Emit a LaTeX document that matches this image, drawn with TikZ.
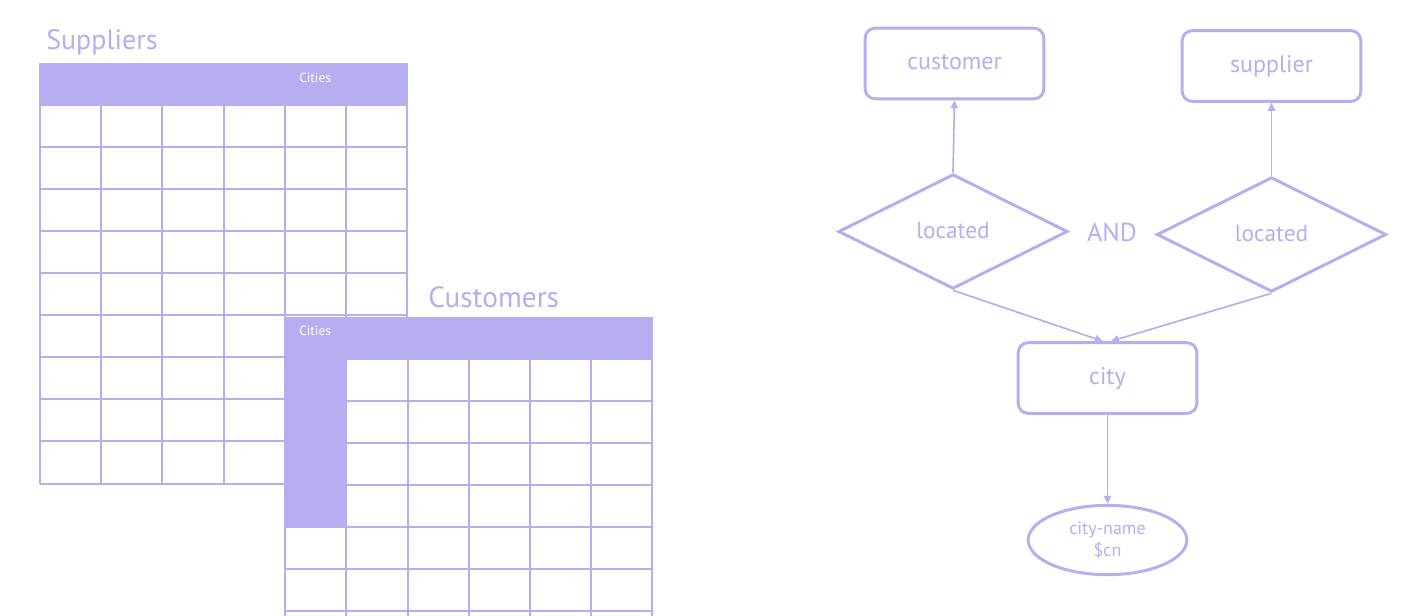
\documentclass[tikz,border=0pt]{standalone}
\usepackage{fontspec}
\setmainfont{PT Sans}
\usetikzlibrary{shapes.geometric,arrows.meta}
\definecolor{lav}{RGB}{181,174,240}
\begin{document}
\begin{tikzpicture}[x=0.75pt,y=-0.75pt,
  grid/.style={draw=lav,line width=0.9pt},
  title/.style={text=lav,font=\fontsize{21}{24}\selectfont,inner sep=0pt,anchor=base west},
  colhead/.style={text=white,font=\fontsize{10}{12}\selectfont,inner sep=0pt,anchor=base west},
  entity/.style={draw=lav,line width=2.2pt,rounded corners=7.5pt,minimum width=134pt,minimum height=53pt,text=lav,font=\fontsize{18}{20}\selectfont},
  relation/.style={diamond,aspect=2,draw=lav,line width=2.2pt,minimum width=172pt,minimum height=86pt,inner sep=0pt,text=lav,font=\fontsize{17.5}{20}\selectfont},
  attribute/.style={ellipse,draw=lav,line width=2.2pt,minimum width=119pt,minimum height=52pt,inner sep=0pt,text=lav,align=center,font=\fontsize{13.5}{16}\selectfont},
  link/.style={draw=lav,line width=1.25pt,-{Triangle[length=6pt,width=5.5pt]}}
]
\useasboundingbox (0,0) rectangle (1406,615);
\clip (0,0) rectangle (1406,615);
\fill[white] (0,0) rectangle (1406,615);

% Suppliers table
\node[title] (suptitle) at (46,49) {Suppliers};
\fill[lav] (40,63) rectangle (407,105);
\foreach \y in {105,147,189,231,273,315,357,399,441,484}
  \draw[grid] (40,\y) -- (407,\y);
\draw[grid] (40,63) -- (40,484);
\draw[grid] (407,63) -- (407,484);
\foreach \x in {101,162,224,285,346}
  \draw[grid] (\x,105) -- (\x,484);
\node[colhead] (supcities) at (299,82) {Cities};

% Customers table
\fill[white] (285,317) rectangle (652,620);
\node[title,font=\fontsize{22}{24}\selectfont] (custitle) at (428,307) {Customers};
\fill[lav] (285,317) rectangle (652,359);
\fill[lav] (285,359) rectangle (346,527);
\foreach \y in {359,401,443,485}
  \draw[grid] (346,\y) -- (652,\y);
\foreach \y in {527,569,611}
  \draw[grid] (285,\y) -- (652,\y);
\draw[grid] (285,317) -- (285,620);
\draw[grid] (652,317) -- (652,620);
\draw[grid] (346,359) -- (346,620);
\foreach \x in {408,469,530,591}
  \draw[grid] (\x,359) -- (\x,620);
\node[colhead] (cuscities) at (299,335) {Cities};

% ER diagram
\node[entity] (customer) at (954.5,63.5) {\raisebox{1.5pt}{customer}};
\node[entity] (supplier) at (1271.5,66) {\raisebox{1.5pt}{supplier}};
\node[relation] (locl) at (953,231.5) {\raisebox{2pt}{located}};
\node[relation] (locr) at (1271.5,234.5) {\raisebox{2pt}{located}};
\node[text=lav,font=\fontsize{19.5}{22}\selectfont] (and) at (1112,232) {AND};
\node[entity] (city) at (1107.5,378) {\raisebox{1pt}{city}};
\node[attribute] (cityname) at (1107.5,540) {city-name\\\$cn};

\draw[link] (locl.north) -- (customer.south);
\draw[link] (locr.north) -- (supplier.south);
\draw[link] (locl.south) -- ([xshift=-3.5pt]city.north);
\draw[link] (locr.south) -- ([xshift=2.5pt]city.north);
\draw[link] (city.south) -- (cityname.north);
\end{tikzpicture}
\end{document}
